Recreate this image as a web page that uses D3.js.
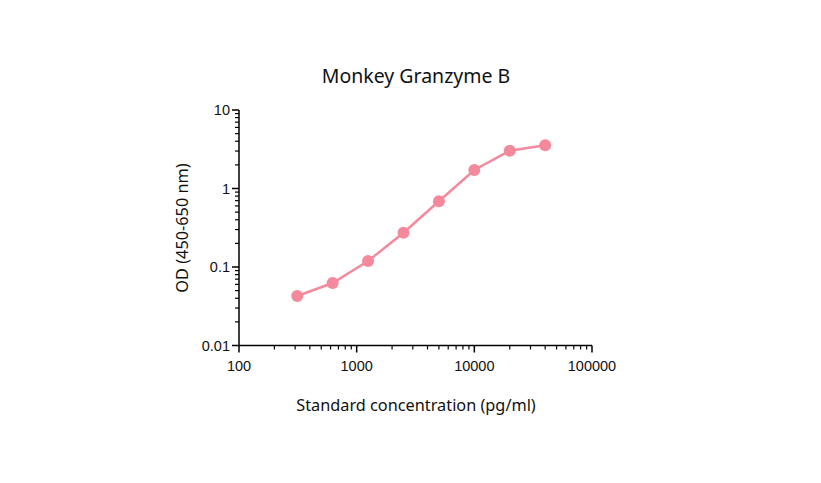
<!DOCTYPE html>
<html><head><meta charset="utf-8">
<script src="https://cdn.jsdelivr.net/npm/d3@7"></script>
<style>body{margin:0;background:#fff}</style>
</head><body>
<svg id="c" width="821" height="483"></svg>
<script>
const concentrations = [312.5, 625, 1250, 2500, 5000, 10000, 20000, 40000];
const odValues = [0.0427, 0.0625, 0.119, 0.273, 0.687, 1.72, 3.03, 3.55];
const xTickValues = [100, 1000, 10000, 100000];
const yTickValues = [0.01, 0.1, 1, 10];
const title = "Monkey Granzyme B";
const xLabel = "Standard concentration (pg/ml)";
const yLabel = "OD (450-650 nm)";

const svg = d3.select("#c");
const L = 239, R = 592, T = 110, B = 345.5;
const x = d3.scaleLog().domain([100, 100000]).range([L, R]);
const y = d3.scaleLog().domain([0.01, 10]).range([B, T]);
const color = "#f4899b";
const tickFont = "'Liberation Sans', Arial, sans-serif";
const labFont = "'Noto Sans', 'Open Sans', sans-serif";

function minors(lo, hi) {
  const out = [];
  for (let d = lo; d < hi; d *= 10) for (let k = 2; k <= 9; k++) out.push(d * k);
  return out;
}

// x axis
const gx = svg.append("g").attr("transform", `translate(0,${B})`);
gx.append("line").attr("x1", L).attr("x2", R).attr("stroke", "#000").attr("stroke-width", 1.5);
gx.selectAll(".mn").data(minors(100, 100000)).join("line")
  .attr("x1", d => x(d)).attr("x2", d => x(d)).attr("y1", 0).attr("y2", 4)
  .attr("stroke", "#000").attr("stroke-width", 1.2);
gx.selectAll(".mj").data(xTickValues).join("line")
  .attr("x1", d => x(d)).attr("x2", d => x(d)).attr("y1", 0).attr("y2", 7)
  .attr("stroke", "#000").attr("stroke-width", 1.5);
gx.selectAll("text").data(xTickValues).join("text")
  .attr("x", d => x(d)).attr("y", 25).attr("text-anchor", "middle")
  .attr("font-family", tickFont).attr("font-size", 14.5).attr("fill", "#111")
  .text(d => d3.format("d")(d));

// y axis
const gy = svg.append("g").attr("transform", `translate(${L},0)`);
gy.append("line").attr("y1", T).attr("y2", B + 0.75).attr("stroke", "#000").attr("stroke-width", 1.5);
gy.selectAll(".mn").data(minors(0.01, 10)).join("line")
  .attr("y1", d => y(d)).attr("y2", d => y(d)).attr("x1", 0).attr("x2", -4)
  .attr("stroke", "#000").attr("stroke-width", 1.2);
gy.selectAll(".mj").data(yTickValues).join("line")
  .attr("y1", d => y(d)).attr("y2", d => y(d)).attr("x1", 0).attr("x2", -7)
  .attr("stroke", "#000").attr("stroke-width", 1.5);
gy.selectAll("text").data(yTickValues).join("text")
  .attr("x", -9).attr("y", d => y(d) + 5).attr("text-anchor", "end")
  .attr("font-family", tickFont).attr("font-size", 14.5).attr("fill", "#111")
  .text(d => String(d));

// line + points
const pts = concentrations.map((c, i) => [c, odValues[i]]);
svg.append("path").datum(pts)
  .attr("d", d3.line().x(d => x(d[0])).y(d => y(d[1])))
  .attr("fill", "none").attr("stroke", color).attr("stroke-width", 2.5);
svg.selectAll(".pt").data(pts).join("circle")
  .attr("cx", d => x(d[0])).attr("cy", d => y(d[1])).attr("r", 6)
  .attr("fill", color);

// labels
svg.append("text").attr("x", 416).attr("y", 83).attr("text-anchor", "middle")
  .attr("font-family", labFont).attr("font-size", 19.5).attr("fill", "#111").text(title);
svg.append("text").attr("x", 416).attr("y", 411).attr("text-anchor", "middle")
  .attr("font-family", labFont).attr("font-size", 16.3).attr("fill", "#111").text(xLabel);
svg.append("text").attr("transform", `translate(188,228) rotate(-90)`).attr("text-anchor", "middle")
  .attr("font-family", labFont).attr("font-size", 16.3).attr("fill", "#111").text(yLabel);
</script>
</body></html>
